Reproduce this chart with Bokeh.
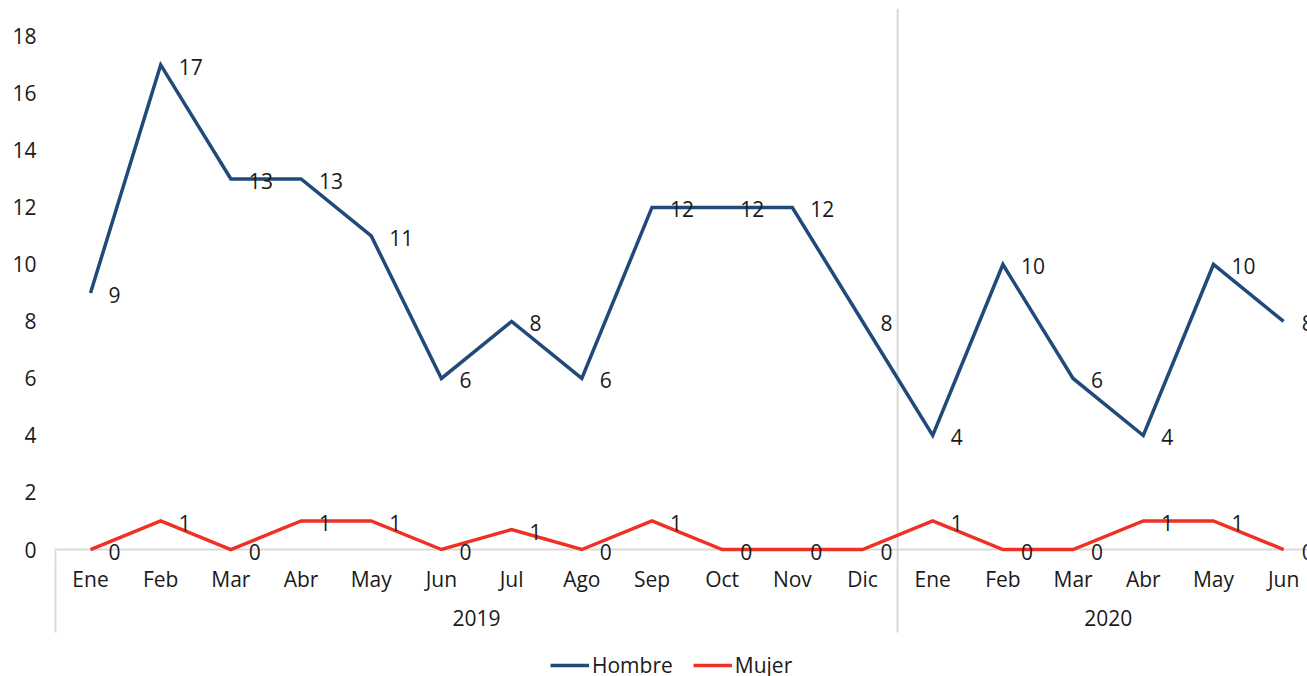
from bokeh.plotting import figure
from bokeh.layouts import column
from bokeh.models import (Range1d, FixedTicker, LinearAxis, Span, Legend, LegendItem,
                          ColumnDataSource)
from bokeh.core.properties import value
from bokeh.embed import file_html
from bokeh.resources import INLINE

months = ["Ene", "Feb", "Mar", "Abr", "May", "Jun", "Jul", "Ago", "Sep", "Oct", "Nov", "Dic",
          "Ene", "Feb", "Mar", "Abr", "May", "Jun"]
years = ["2019", "2020"]
year_centers = [5.5, 14.5]
group_bounds = [-0.5, 11.5]
hombre = [9, 17, 13, 13, 11, 6, 8, 6, 12, 12, 12, 8, 4, 10, 6, 4, 10, 8]
mujer = [0, 1, 0, 1, 1, 0, 0.7, 0, 1, 0, 0, 0, 1, 0, 0, 1, 1, 0]
y_ticks = [0, 2, 4, 6, 8, 10, 12, 14, 16, 18]
series_names = ["Hombre", "Mujer"]

FONT = "Open Sans"
FS = "21px"
TXT = "#1A1A1A"
BLUE = "#1F4A7A"
RED = "#EE3124"
GRID = "#D9D9D9"

xs = list(range(len(months)))


def plain_axis(ax, standoff):
    ax.axis_line_color = None
    ax.major_tick_line_color = None
    ax.major_tick_out = 0
    ax.major_tick_in = 0
    ax.minor_tick_out = 0
    ax.minor_tick_in = 0
    ax.minor_tick_line_color = None
    ax.major_label_standoff = standoff
    ax.major_label_text_font = FONT
    ax.major_label_text_font_size = FS
    ax.major_label_text_color = TXT


p = figure(width=1307, height=645, output_backend="svg", toolbar_location=None,
           x_range=Range1d(-0.513, 17.34), y_range=Range1d(-0.526, 18.98),
           min_border_left=54, min_border_right=0, min_border_top=8, min_border_bottom=81)
p.outline_line_color = None
p.xgrid.visible = False
p.ygrid.visible = False

# y axis
ya = p.yaxis[0]
ya.ticker = FixedTicker(ticks=y_ticks)
plain_axis(ya, 18)

# month axis
xa = p.xaxis[0]
xa.ticker = FixedTicker(ticks=xs)
xa.major_label_overrides = {i: m for i, m in enumerate(months)}
plain_axis(xa, 0)

# year axis
yr = LinearAxis(ticker=FixedTicker(ticks=year_centers))
yr.major_label_overrides = {c: y for c, y in zip(year_centers, years)}
plain_axis(yr, 14)
p.add_layout(yr, "below")

# group separators below the frame (drawn upward from a label-less axis)
sep = LinearAxis(ticker=FixedTicker(ticks=[], minor_ticks=group_bounds))
plain_axis(sep, 0)
sep.minor_tick_line_color = GRID
sep.minor_tick_line_width = 2
sep.minor_tick_in = 64
sep.minor_tick_out = 4
p.add_layout(sep, "below")

# baseline and separators inside the frame (beneath the series)
p.add_layout(Span(location=0, dimension="width", line_color=GRID, line_width=2, level="underlay"))
p.add_layout(Span(location=group_bounds[1], dimension="height", line_color=GRID, line_width=2,
                  level="underlay"))
p.segment(x0=[group_bounds[0]], y0=[0], x1=[group_bounds[0]], y1=[-2], line_color=GRID,
          line_width=2, level="underlay")

src = ColumnDataSource(dict(x=xs, h=hombre, m=mujer,
                            hl=[f"{v:.0f}" for v in hombre],
                            ml=[f"{v:.0f}" for v in mujer]))

p.line("x", "h", source=src, line_color=BLUE, line_width=3.5, line_join="miter")
p.line("x", "m", source=src, line_color=RED, line_width=3.5, line_join="miter")

for col, lab in (("h", "hl"), ("m", "ml")):
    p.text(x="x", y=col, text=lab, source=src, x_offset=18, y_offset=2,
           text_align="left", text_baseline="middle",
           text_font=value(FONT), text_font_size=FS, text_color=TXT)

# legend strip
q = figure(width=1307, height=31, output_backend="svg", toolbar_location=None,
           x_range=Range1d(0, 1), y_range=Range1d(0, 1),
           min_border_left=0, min_border_right=0, min_border_top=0, min_border_bottom=0)
q.axis.visible = False
q.grid.visible = False
q.outline_line_color = None
rh = q.line(x=[-10, -9], y=[-10, -10], line_color=BLUE, line_width=3.5)
rm = q.line(x=[-10, -9], y=[-10, -10], line_color=RED, line_width=3.5)

legend = Legend(items=[LegendItem(label=series_names[0], renderers=[rh]),
                       LegendItem(label=series_names[1], renderers=[rm])],
                orientation="horizontal", location=(496, -3))
legend.border_line_color = None
legend.background_fill_alpha = 0
legend.label_text_font = FONT
legend.label_text_font_size = FS
legend.label_text_color = TXT
legend.glyph_width = 39
legend.glyph_height = 20
legend.label_standoff = 3
legend.spacing = 20
legend.padding = 0
legend.margin = 0
q.add_layout(legend, "center")

open("out.html", "w").write(file_html(column(p, q, spacing=0), INLINE))
